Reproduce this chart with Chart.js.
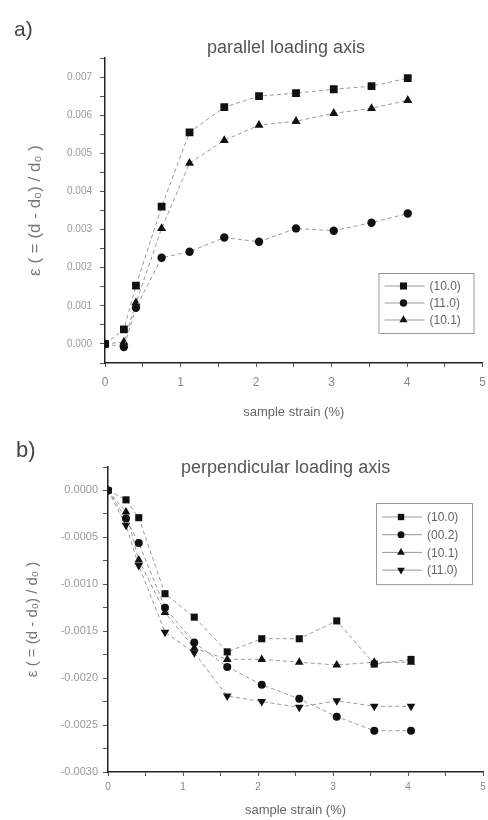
<!DOCTYPE html>
<html>
<head>
<meta charset="utf-8">
<script src="https://cdn.jsdelivr.net/npm/chart.js@4"></script>
<style>
  body { margin: 0; background: #fff; font-family: "Liberation Sans", Arial, sans-serif; }
  #wrap { position: relative; width: 488px; height: 820px; overflow: hidden; }
  .lbl { position: absolute; color: #444; white-space: nowrap; }
  #ca { position: absolute; left: 0; top: 0; }
  #cb { position: absolute; left: 0; top: 425px; }
</style>
</head>
<body>
<div id="wrap">
  <canvas id="ca" width="488" height="425"></canvas>
  <canvas id="cb" width="488" height="395"></canvas>
  <div class="lbl" style="left:14px;top:17px;font-size:21px;">a)</div>
  <div class="lbl" style="left:16px;top:437px;font-size:22px;">b)</div>
  <div class="lbl" style="left:207px;top:37px;font-size:18px;color:#555;">parallel loading axis</div>
  <div class="lbl" style="left:181px;top:457px;font-size:18px;color:#555;">perpendicular loading axis</div>
</div>
<script>
// panel a) parallel loading axis
const strainA = [0, 0.25, 0.41, 0.75, 1.12, 1.58, 2.04, 2.53, 3.03, 3.53, 4.01];
const a100 = [0, 0.00038, 0.00153, 0.0036, 0.00555, 0.00621, 0.0065, 0.00658, 0.00668, 0.00676, 0.00697];
const a110 = [0, -0.00008, 0.00095, 0.00226, 0.00242, 0.00279, 0.00268, 0.00303, 0.00297, 0.00318, 0.00342];
const a101 = [0, 0.00005, 0.00108, 0.00303, 0.00474, 0.00534, 0.00574, 0.00584, 0.00605, 0.00618, 0.00639];

// panel b) perpendicular loading axis
const strainB = [0, 0.24, 0.41, 0.76, 1.15, 1.59, 2.05, 2.55, 3.05, 3.55, 4.04];
const b100 = [0, -0.0001, -0.00029, -0.0011, -0.00135, -0.00172, -0.00158, -0.00158, -0.00139, -0.00185, -0.0018];
const b002 = [0, -0.0003, -0.00056, -0.00125, -0.00162, -0.00188, -0.00207, -0.00222, -0.00241, -0.00256, -0.00256];
const b101 = [0, -0.00023, -0.00074, -0.0013, -0.00168, -0.0018, -0.0018, -0.00183, -0.00186, -0.00183, -0.00183];
const b110 = [0, -0.00037, -0.0008, -0.00151, -0.00173, -0.00219, -0.00225, -0.00231, -0.00224, -0.0023, -0.0023];

const xTicks = [0, 1, 2, 3, 4, 5];
const yTitle = 'ε ( = (d - d₀) / d₀ )';
const xTitle = 'sample strain (%)';
const FONT = '"Liberation Sans", Arial, sans-serif';

function pts(xs, ys) {
  return xs.map((x, i) => ({ x: x, y: ys[i] }));
}

function series(label, xs, ys, style, radius, rot) {
  return {
    label: label,
    data: pts(xs, ys),
    borderColor: '#9a9a9a',
    borderWidth: 1,
    borderDash: [4, 3],
    pointStyle: style,
    pointRadius: radius,
    pointRotation: rot || 0,
    pointBackgroundColor: '#111',
    pointBorderColor: '#111',
    pointBorderWidth: 0,
    tension: 0,
    showLine: true
  };
}

// legend drawn in a box inside the plot area
const boxLegend = {
  id: 'boxLegend',
  afterDraw(chart, args, opts) {
    const ctx = chart.ctx;
    const area = chart.chartArea;
    const x0 = area.right - opts.fromRight;
    const y0 = area.top + opts.fromTop;
    const sets = chart.data.datasets;
    const h = opts.pad * 2 + opts.rowH * (sets.length - 1) + 10;
    ctx.save();
    ctx.strokeStyle = '#999';
    ctx.lineWidth = 1;
    ctx.strokeRect(x0 + 0.5, y0 + 0.5, opts.w, h);
    sets.forEach((ds, i) => {
      const y = y0 + opts.pad + 5 + i * opts.rowH;
      ctx.strokeStyle = '#999';
      ctx.setLineDash([]);
      ctx.beginPath();
      ctx.moveTo(x0 + 6, y);
      ctx.lineTo(x0 + 46, y);
      ctx.stroke();
      ctx.fillStyle = '#111';
      ctx.strokeStyle = '#111';
      Chart.helpers.drawPoint(ctx, {
        pointStyle: ds.pointStyle,
        radius: ds.pointRadius - 0.5,
        rotation: ds.pointRotation,
        borderWidth: 0
      }, x0 + 25, y);
      ctx.fillStyle = '#666';
      ctx.font = '12px ' + FONT;
      ctx.textBaseline = 'middle';
      ctx.fillText(ds.label, x0 + 51, y + 1);
    });
    ctx.restore();
  }
};

function makeChart(id, datasets, cfg) {
  new Chart(document.getElementById(id), {
    type: 'line',
    data: { datasets: datasets },
    plugins: [boxLegend],
    options: {
      responsive: false,
      animation: false,
      layout: { padding: { top: cfg.top, right: cfg.right, left: 0, bottom: 0 } },
      plugins: {
        legend: { display: false },
        tooltip: { enabled: false },
        boxLegend: cfg.legend
      },
      scales: {
        x: {
          type: 'linear',
          min: 0,
          max: 5,
          afterBuildTicks: (s) => {
            const t = [];
            for (let v = 0; v <= 5.0001; v += 0.5) t.push({ value: Math.round(v * 10) / 10 });
            s.ticks = t;
          },
          ticks: {
            autoSkip: false,
            maxRotation: 0,
            padding: cfg.xPad,
            color: '#888',
            font: { family: FONT, size: cfg.xFont },
            callback: (v) => xTicks.includes(v) ? String(v) : ''
          },
          grid: { drawOnChartArea: false, drawTicks: true, tickLength: 4, color: '#555' },
          border: { display: true, color: '#222', width: 1.5 },
          title: {
            display: true,
            text: xTitle,
            color: '#666',
            font: { family: FONT, size: 13 },
            padding: { top: 0, bottom: cfg.xTitlePad }
          },
          afterFit: (s) => {
            s.paddingLeft = 0;
            s.paddingRight = 0;
            s.height = cfg.xHeight;
          }
        },
        y: {
          type: 'linear',
          min: cfg.yMin,
          max: cfg.yMax,
          ticks: {
            stepSize: cfg.yStep,
            autoSkip: false,
            padding: cfg.yPad,
            color: '#999',
            font: { family: FONT, size: cfg.yFont },
            callback: (v) => {
              const k = v / cfg.yLabelStep;
              if (Math.abs(k - Math.round(k)) > 1e-6) return '';
              if (Math.abs(v) < 1e-12) return (0).toFixed(cfg.dec);
              return v.toFixed(cfg.dec);
            }
          },
          grid: { drawOnChartArea: false, drawTicks: true, tickLength: 5, color: '#555' },
          border: { display: true, color: '#222', width: 1.5 },
          title: {
            display: true,
            text: yTitle,
            color: '#777',
            font: { family: FONT, size: cfg.yTitleFont },
            padding: { top: cfg.yTitlePad, bottom: 0 }
          },
          afterFit: (s) => {
            s.paddingTop = 0;
            s.paddingBottom = 0;
            s.width = cfg.yWidth;
          }
        }
      }
    }
  });
}

makeChart('ca', [
  series('(10.0)', strainA, a100, 'rect', 5.5),
  series('(11.0)', strainA, a110, 'circle', 4.2),
  series('(10.1)', strainA, a101, 'triangle', 5.2)
], {
  top: 58, right: 3, xHeight: 62, yWidth: 105,
  yMin: -0.0005, yMax: 0.0075, yStep: 0.0005, yLabelStep: 0.001, dec: 3,
  xPad: 8, xFont: 12, xTitlePad: 5, yPad: 8, yFont: 10, yTitlePad: 25, yTitleFont: 17,
  legend: { fromRight: 104, fromTop: 215, w: 95, pad: 8, rowH: 17 }
});

makeChart('cb', [
  series('(10.0)', strainB, b100, 'rect', 5),
  series('(00.2)', strainB, b002, 'circle', 4),
  series('(10.1)', strainB, b101, 'triangle', 5),
  series('(11.0)', strainB, b110, 'triangle', 5, 180)
], {
  top: 42, right: 1, xHeight: 48, yWidth: 108,
  yMin: -0.003, yMax: 0.00025, yStep: 0.00025, yLabelStep: 0.0005, dec: 4,
  xPad: 5, xFont: 10, xTitlePad: 2, yPad: 5, yFont: 11, yTitlePad: 24, yTitleFont: 15,
  legend: { fromRight: 107, fromTop: 36, w: 96, pad: 9, rowH: 17.7 }
});
</script>
</body>
</html>
